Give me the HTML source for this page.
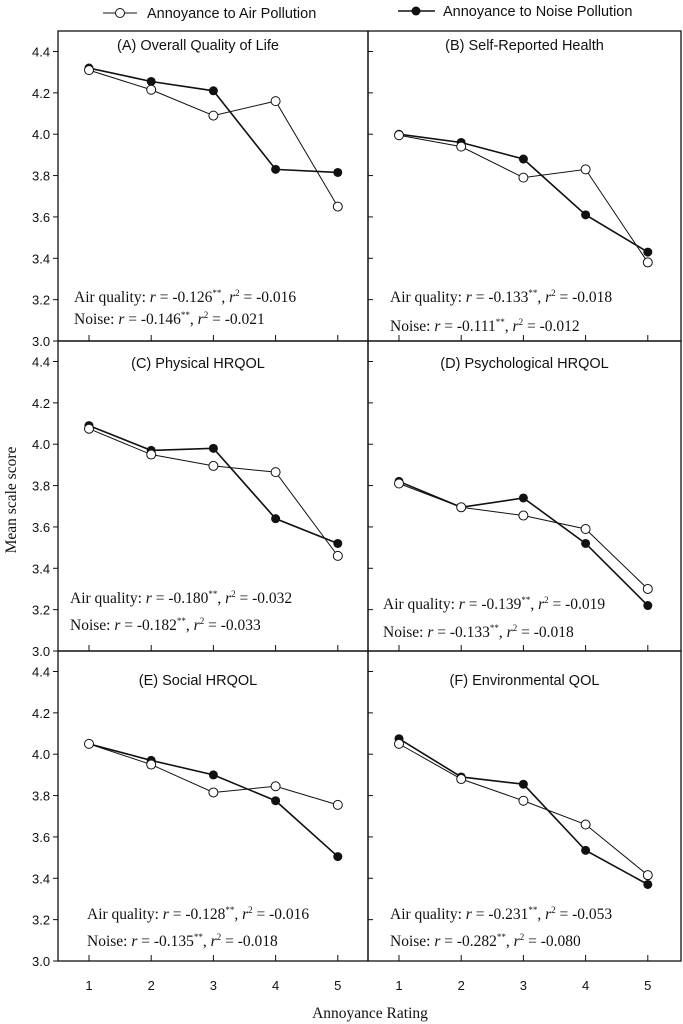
<!DOCTYPE html>
<html><head><meta charset="utf-8"><style>
body{margin:0;background:#fff;}
svg{display:block;}
.t{font-family:"Liberation Sans",Arial,sans-serif;font-size:14.5px;fill:#111;}
.s{font-family:"Liberation Serif","Times New Roman",serif;font-size:15.5px;fill:#111;}
.tk{font-family:"Liberation Sans",Arial,sans-serif;font-size:13px;fill:#111;}
</style></head><body>
<svg id="c" width="683" height="1024" xmlns="http://www.w3.org/2000/svg">
<g>
 <line x1="103" y1="13" x2="137" y2="13" stroke="#111" stroke-width="1"/>
 <circle cx="120" cy="13" r="4.5" fill="#fff" stroke="#111"/>
 <text class="t" x="147" y="18">Annoyance to Air Pollution</text>
 <line x1="398" y1="11" x2="435" y2="11" stroke="#111" stroke-width="1.6"/>
 <circle cx="416" cy="11" r="4.5" fill="#111"/>
 <text class="t" x="443" y="16">Annoyance to Noise Pollution</text>
</g>
<text class="s" x="0" y="0" transform="translate(16,500) rotate(-90)" text-anchor="middle">Mean scale score</text>
<text class="s" x="370" y="1018" text-anchor="middle">Annoyance Rating</text>
<g id="panels"></g>
</svg>
<script>
const titles=["(A) Overall Quality of Life","(B) Self-Reported Health","(C) Physical HRQOL","(D) Psychological HRQOL","(E)  Social HRQOL","(F) Environmental QOL"];
const categories=[1,2,3,4,5];
const airValues=[
 [4.31,4.215,4.09,4.16,3.65],
 [3.995,3.94,3.79,3.83,3.38],
 [4.075,3.95,3.895,3.865,3.46],
 [3.81,3.695,3.655,3.59,3.30],
 [4.05,3.95,3.815,3.845,3.755],
 [4.05,3.88,3.775,3.66,3.415]];
const noiseValues=[
 [4.32,4.255,4.21,3.83,3.815],
 [4.0,3.96,3.88,3.61,3.43],
 [4.09,3.97,3.98,3.64,3.52],
 [3.82,3.695,3.74,3.52,3.22],
 [4.05,3.97,3.90,3.775,3.505],
 [4.075,3.89,3.855,3.535,3.37]];
const airR=["-0.126","-0.133","-0.180","-0.139","-0.128","-0.231"];
const airR2=["-0.016","-0.018","-0.032","-0.019","-0.016","-0.053"];
const noiseR=["-0.146","-0.111","-0.182","-0.133","-0.135","-0.282"];
const noiseR2=["-0.021","-0.012","-0.033","-0.018","-0.018","-0.080"];
const yTicks=["3.0","3.2","3.4","3.6","3.8","4.0","4.2","4.4"];

const NS="http://www.w3.org/2000/svg";
const root=document.getElementById('panels');
function mk(tag,attrs,parent){const e=document.createElementNS(NS,tag);for(const k in attrs)e.setAttribute(k,attrs[k]);parent.appendChild(e);return e;}
const left=[58,368], right=[368,681];
const rowTop=[31,341,651];
const statPos=[[74,302,324],[390,302,331],[70,603,630],[383,609,637],[87,919,946],[390,919,946]];
const titleY=[50,50,368,368,685,685];
for(let p=0;p<6;p++){
 const col=p%2,row=Math.floor(p/2);
 const x0=left[col]===58&&col===0?58:368, x1=col===0?368:681;
 const yb=rowTop[row]+310;
 const xs=v=>(col===0?89:399)+(v-1)*62.2;
 const ys=v=>yb-(v-3.0)/1.4*289.5;
 const g=mk('g',{},root);
 
 
 const fr=mk('rect',{x:x0,y:rowTop[row],width:x1-x0,height:310,fill:'none',stroke:'#111','stroke-width':1.3},g);
 
 
 yTicks.forEach(t=>{const y=ys(parseFloat(t));
  if(col===0){mk('line',{x1:x0-5,y1:y,x2:x0,y2:y,stroke:'#111'},g);
   if(!(t==="4.4"&&false)){const tl=mk('text',{x:x0-6-20,y:y+5,class:'tk'},g);tl.textContent=t;
   
   }}
  else mk('line',{x1:x0,y1:y,x2:x0+5,y2:y,stroke:'#111'},g);
 });
 categories.forEach(c=>{mk('line',{x1:xs(c),y1:yb,x2:xs(c),y2:yb-6,stroke:'#111'},g);
  if(row===2){const tl=mk('text',{x:xs(c),y:yb+29,class:'tk','text-anchor':'middle'},g);tl.textContent=c;
  
  }
 });
 const tt=mk('text',{x:(x0+x1)/2+(col===0?-15:0),y:titleY[p],class:'t','text-anchor':'middle'},g);tt.textContent=titles[p];
 
 
 const ptsA=categories.map((c,i)=>xs(c)+','+ys(airValues[p][i])).join(' ');
 const ptsN=categories.map((c,i)=>xs(c)+','+ys(noiseValues[p][i])).join(' ');
 const la=mk('polyline',{points:ptsA,fill:'none',stroke:'#111','stroke-width':1},g);
 
 
 const ln=mk('polyline',{points:ptsN,fill:'none',stroke:'#111','stroke-width':1.6},g);
 
 
 categories.forEach((c,i)=>{
  const cn=mk('circle',{cx:xs(c),cy:ys(noiseValues[p][i]),r:4.5,fill:'#111'},g);
  
  
  const ca=mk('circle',{cx:xs(c),cy:ys(airValues[p][i]),r:4.5,fill:'#fff',stroke:'#111'},g);
  
  
 });
 const [sx,sy1,sy2]=statPos[p];
 const s1=mk('text',{x:sx,y:sy1,class:'s'},g);
 s1.innerHTML='Air quality: <tspan font-style="italic">r</tspan> = '+airR[p]+'<tspan font-size="9" dy="-6">**</tspan><tspan dy="6">,  </tspan><tspan font-style="italic">r</tspan><tspan font-size="9" dy="-6">2</tspan><tspan dy="6"> = '+airR2[p]+'</tspan>';
 
 
 const s2=mk('text',{x:sx,y:sy2,class:'s'},g);
 s2.innerHTML='Noise: <tspan font-style="italic">r</tspan> = '+noiseR[p]+'<tspan font-size="9" dy="-6">**</tspan><tspan dy="6">, </tspan><tspan font-style="italic">r</tspan><tspan font-size="9" dy="-6">2</tspan><tspan dy="6"> = '+noiseR2[p]+'</tspan>';
 
 
}
</script>
</body></html>
